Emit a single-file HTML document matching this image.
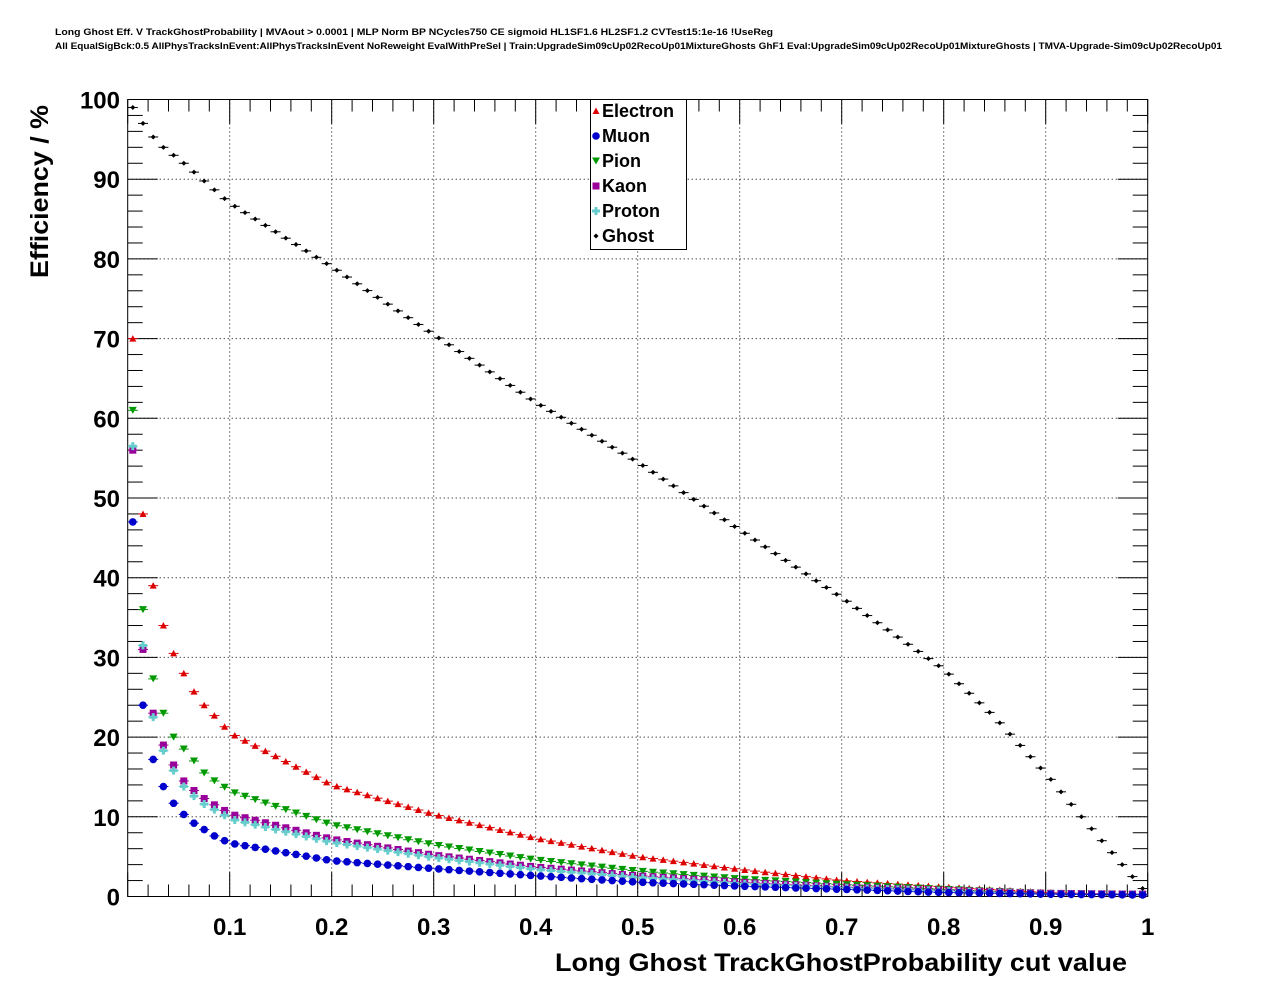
<!DOCTYPE html>
<html><head><meta charset="utf-8"><style>
body{margin:0;background:#fff;}
svg{display:block;font-family:"Liberation Sans",sans-serif;}
</style></head><body>
<svg id="s" width="1276" height="996" xmlns="http://www.w3.org/2000/svg">
<rect width="1276" height="996" fill="#fff"/>
<text x="55" y="35" font-size="9.5" font-weight="bold" textLength="718" lengthAdjust="spacingAndGlyphs">Long Ghost Eff. V TrackGhostProbability | MVAout &gt; 0.0001 | MLP Norm BP NCycles750 CE sigmoid HL1SF1.6 HL2SF1.2 CVTest15:1e-16 !UseReg</text>
<text x="55" y="49" font-size="9.5" font-weight="bold" textLength="1167" lengthAdjust="spacingAndGlyphs">All EqualSigBck:0.5 AllPhysTracksInEvent:AllPhysTracksInEvent NoReweight EvalWithPreSel | Train:UpgradeSim09cUp02RecoUp01MixtureGhosts GhF1 Eval:UpgradeSim09cUp02RecoUp01MixtureGhosts | TMVA-Upgrade-Sim09cUp02RecoUp01</text>
<g id="grid"></g>
<rect x="127.7" y="99.5" width="1020" height="797" fill="none" stroke="#000" stroke-width="1"/>
<g id="ticks" stroke="#000" stroke-width="1"></g>
<g id="labels" font-size="24" font-weight="bold"></g>
<text transform="translate(48,278) rotate(-90)" font-size="25" font-weight="bold" textLength="173" lengthAdjust="spacingAndGlyphs">Efficiency / %</text>
<text x="555" y="971" font-size="25" font-weight="bold" textLength="572" lengthAdjust="spacingAndGlyphs">Long Ghost TrackGhostProbability cut value</text>
<g id="data"></g>
<rect x="590.5" y="99.5" width="96" height="150" fill="#fff" stroke="#000"/>
<g font-size="18" font-weight="bold">
<text x="602" y="117">Electron</text>
<text x="602" y="142">Muon</text>
<text x="602" y="167">Pion</text>
<text x="602" y="192">Kaon</text>
<text x="602" y="217">Proton</text>
<text x="602" y="242">Ghost</text>
</g>
<g id="leg"></g>
</svg>
<script>
var NS="http://www.w3.org/2000/svg";
function X(v){return 127.7+1020*v;}
function Y(v){return 896.5-7.97*v;}
function el(p,t,a){var e=document.createElementNS(NS,t);for(var k in a)e.setAttribute(k,a[k]);document.getElementById(p).appendChild(e);return e;}
for(var i=1;i<10;i++){el('grid','line',{x1:X(i/10),x2:X(i/10),y1:99.5,y2:896.5,stroke:'#000','stroke-dasharray':'1,3'});
 el('grid','line',{x1:127.7,x2:1147.7,y1:Y(i*10),y2:Y(i*10),stroke:'#000','stroke-dasharray':'1,3'});}
for(var i=0;i<=50;i++){var v=i/50,L=(i%5==0)?24:12;
 el('ticks','line',{x1:X(v),x2:X(v),y1:896.5,y2:896.5-L});
 el('ticks','line',{x1:X(v),x2:X(v),y1:99.5,y2:99.5+L});}
for(var i=0;i<=50;i++){var v=i*2,L=(i%5==0)?30:15;
 el('ticks','line',{y1:Y(v),y2:Y(v),x1:127.7,x2:127.7+L});
 el('ticks','line',{y1:Y(v),y2:Y(v),x1:1147.7,x2:1147.7-L});}
for(var i=0;i<=10;i++){var t=el('labels','text',{x:120,y:Y(i*10)+9,'text-anchor':'end'});t.textContent=''+(i*10);}
for(var i=1;i<=10;i++){var t=el('labels','text',{x:X(i/10),y:935,'text-anchor':'middle'});t.textContent=i==10?'1':('0.'+i);}
function interp(pts,x){for(var i=0;i<pts.length-1;i++){if(x<=pts[i+1][0]){var a=pts[i],b=pts[i+1];return a[1]+(b[1]-a[1])*(x-a[0])/(b[0]-a[0]);}}return pts[pts.length-1][1];}
var S={
ghost:[[0.005,99],[0.015,97],[0.025,95.3],[0.035,94],[0.045,93],[0.055,92],[0.1,87],[0.2,79],[0.3,70.5],[0.4,62],[0.5,54.5],[0.6,46],[0.7,37.5],[0.8,28.5],[0.85,22.5],[0.905,14.7],[0.935,10],[0.965,5.5],[0.995,1]],
electron:[[0.005,70],[0.015,48],[0.025,39],[0.035,34],[0.045,30.5],[0.055,28],[0.065,25.7],[0.075,24],[0.085,22.7],[0.095,21.3],[0.105,20.2],[0.2,14],[0.3,10.3],[0.4,7.3],[0.5,5],[0.6,3.4],[0.7,2],[0.8,1.2],[0.9,0.5],[1,0.2]],
pion:[[0.005,61],[0.015,36],[0.025,27.3],[0.035,23],[0.045,20],[0.055,18.5],[0.065,17],[0.075,15.5],[0.085,14.5],[0.095,13.7],[0.105,13],[0.2,9],[0.3,6.5],[0.4,4.6],[0.5,3.2],[0.6,2.2],[0.7,1.5],[0.8,0.9],[0.9,0.4],[1,0.2]],
kaon:[[0.005,56],[0.015,31],[0.025,23],[0.035,19],[0.045,16.5],[0.055,14.5],[0.065,13.3],[0.075,12.3],[0.085,11.5],[0.095,10.8],[0.105,10.2],[0.2,7.2],[0.3,5.2],[0.4,3.7],[0.5,2.6],[0.6,1.8],[0.7,1.2],[0.8,0.8],[0.9,0.4],[1,0.3]],
proton:[[0.005,56.5],[0.015,31.5],[0.025,22.5],[0.035,18.3],[0.045,15.8],[0.055,13.8],[0.065,12.6],[0.075,11.6],[0.085,10.9],[0.095,10.2],[0.105,9.6],[0.2,6.8],[0.3,4.9],[0.4,3.4],[0.5,2.4],[0.6,1.6],[0.7,1.1],[0.8,0.7],[0.9,0.3],[1,0.2]],
muon:[[0.005,47],[0.015,24],[0.025,17.2],[0.035,13.8],[0.045,11.7],[0.055,10.3],[0.065,9.2],[0.075,8.4],[0.085,7.6],[0.095,7],[0.105,6.6],[0.2,4.5],[0.3,3.5],[0.4,2.6],[0.5,1.8],[0.6,1.3],[0.7,0.9],[0.8,0.5],[0.9,0.3],[1,0.2]]};
function marker(g,kind,cx,cy){
 if(kind=='electron')el(g,'polygon',{points:(cx-3.5)+','+(cy+3)+' '+(cx+3.5)+','+(cy+3)+' '+cx+','+(cy-3.5),fill:'#dd0000'});
 else if(kind=='pion')el(g,'polygon',{points:(cx-4)+','+(cy-3.5)+' '+(cx+4)+','+(cy-3.5)+' '+cx+','+(cy+3.5),fill:'#009900'});
 else if(kind=='kaon')el(g,'rect',{x:cx-3.5,y:cy-3.5,width:7,height:7,fill:'#990099'});
 else if(kind=='proton'){el(g,'rect',{x:cx-4,y:cy-1.5,width:8,height:3,fill:'#66cccc'});el(g,'rect',{x:cx-1.5,y:cy-4,width:3,height:8,fill:'#66cccc'});}
 else if(kind=='muon')el(g,'circle',{cx:cx,cy:cy,r:3.8,fill:'#0000cc'});
 else el(g,'polygon',{points:(cx-2.5)+','+cy+' '+cx+','+(cy-2.5)+' '+(cx+2.5)+','+cy+' '+cx+','+(cy+2.5),fill:'#000'});
}
var col={electron:'#dd0000',pion:'#009900',kaon:'#990099',proton:'#66cccc',muon:'#0000cc',ghost:'#000'};
['electron','pion','kaon','proton','muon','ghost'].forEach(function(k){
 for(var i=0;i<100;i++){var x=0.005+0.01*i,y=interp(S[k],x),cx=X(x),cy=Y(y);
  el('data','line',{x1:cx-5,x2:cx+5,y1:cy,y2:cy,stroke:col[k],'stroke-width':1});
  marker('data',k,cx,cy);}
});
['electron','muon','pion','kaon','proton','ghost'].forEach(function(k,i){marker('leg',k,596,111+25*i);});
</script>
</body></html>
